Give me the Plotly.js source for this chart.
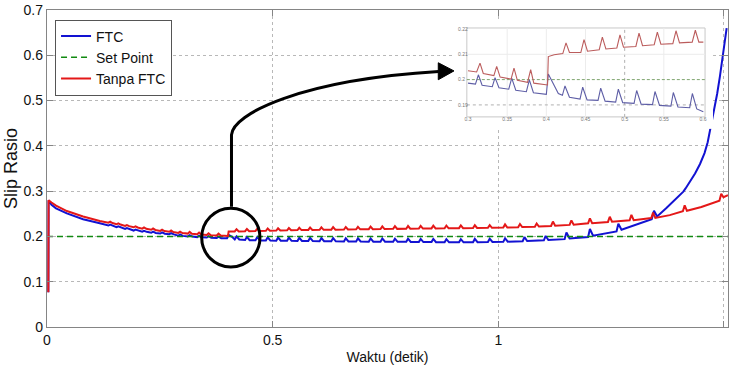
<!DOCTYPE html>
<html><head><meta charset="utf-8">
<script src="https://cdn.plot.ly/plotly-3.0.1.min.js"></script>
<style>html,body{margin:0;padding:0;background:#fff;} #chart{width:731px;height:367px;}</style>
</head><body><div id="chart"></div>
<script>
// ---------- main chart data ----------
const xTicks = [0, 0.5, 1, 1.5];
const xTickText = ['0', '0.5', '1', '1.5'];
const yTicks = [0, 0.1, 0.2, 0.3, 0.4, 0.5, 0.6, 0.7];
const yTickText = ['0', '0.1', '0.2', '0.3', '0.4', '0.5', '0.6', '0.7'];

const setT = [0, 1.509];
const setV = [0.2, 0.2];

const redT = [
0.003, 0.0035, 0.010, 0.020, 0.044, 0.080, 0.117,
0.136, 0.140, 0.145, 0.154, 0.158, 0.163, 0.173, 0.177, 0.182, 0.192, 0.196, 0.201,
0.211, 0.215, 0.220, 0.231, 0.235, 0.240, 0.251, 0.255, 0.260, 0.271, 0.275, 0.280,
0.291, 0.295, 0.300, 0.312, 0.316, 0.321, 0.333, 0.337, 0.342, 0.354, 0.358, 0.363,
0.376, 0.380, 0.385,
0.401, 0.4025,
0.416, 0.420, 0.425, 0.439, 0.443, 0.448, 0.462, 0.466, 0.471, 0.485, 0.489, 0.494,
0.508, 0.512, 0.517, 0.532, 0.536, 0.541, 0.555, 0.559, 0.564, 0.579, 0.583, 0.588,
0.604, 0.608, 0.613, 0.630, 0.634, 0.639, 0.658, 0.662, 0.667, 0.685, 0.689, 0.694,
0.713, 0.717, 0.722, 0.739, 0.743, 0.748, 0.767, 0.771, 0.776, 0.796, 0.800, 0.805,
0.824, 0.828, 0.833, 0.852, 0.856, 0.861, 0.881, 0.885, 0.890, 0.913, 0.917, 0.922,
0.944, 0.948, 0.953, 0.977, 0.981, 0.986, 1.011, 1.015, 1.020, 1.044, 1.048, 1.053,
1.081, 1.085, 1.090, 1.117, 1.121, 1.126, 1.158, 1.162, 1.167, 1.199, 1.203, 1.208,
1.243, 1.247, 1.252, 1.291, 1.295, 1.300, 1.339, 1.343, 1.348,
1.380,
1.409, 1.413, 1.418,
1.450,
1.490, 1.494, 1.499,
1.509];
const redV = [
0.077, 0.280, 0.275, 0.268, 0.256, 0.244, 0.234,
0.2305, 0.2325, 0.2295, 0.2268, 0.2288, 0.2262, 0.2232, 0.2252, 0.2227, 0.2202, 0.2222, 0.2197,
0.2172, 0.2200, 0.2168, 0.2147, 0.2175, 0.2143, 0.2122, 0.2150, 0.2118, 0.2102, 0.2130, 0.2098,
0.2077, 0.2105, 0.2073, 0.2062, 0.2100, 0.2058, 0.2047, 0.2085, 0.2043, 0.2032, 0.2070, 0.2028,
0.2022, 0.2060, 0.2018,
0.2010, 0.2110,
0.2110, 0.2160, 0.2110, 0.2115, 0.2165, 0.2115, 0.2120, 0.2170, 0.2120, 0.2125, 0.2175, 0.2125,
0.2130, 0.2180, 0.2130, 0.2135, 0.2185, 0.2135, 0.2140, 0.2190, 0.2140, 0.2143, 0.2198, 0.2143,
0.2146, 0.2201, 0.2146, 0.2150, 0.2205, 0.2150, 0.2153, 0.2208, 0.2153, 0.2156, 0.2211, 0.2156,
0.2160, 0.2215, 0.2160, 0.2163, 0.2223, 0.2163, 0.2167, 0.2227, 0.2167, 0.2170, 0.2230, 0.2170,
0.2173, 0.2233, 0.2173, 0.2177, 0.2237, 0.2177, 0.2180, 0.2240, 0.2180, 0.2183, 0.2243, 0.2183,
0.2187, 0.2247, 0.2187, 0.2190, 0.2250, 0.2190, 0.2195, 0.2265, 0.2197, 0.2205, 0.2275, 0.2207,
0.2215, 0.2285, 0.2218, 0.2232, 0.2328, 0.2235, 0.2255, 0.2355, 0.2260, 0.2290, 0.2400, 0.2293,
0.2320, 0.2435, 0.2325, 0.2355, 0.2475, 0.2360, 0.2405, 0.2525, 0.2410,
0.2470,
0.2555, 0.2685, 0.2565,
0.2650,
0.2790, 0.2940, 0.2865,
0.2910];

const blueT = [
0.003, 0.0035, 0.010, 0.020, 0.044, 0.080, 0.117,
0.136, 0.140, 0.146, 0.154, 0.158, 0.164, 0.173, 0.177, 0.183, 0.192, 0.196, 0.202,
0.211, 0.215, 0.221, 0.231, 0.235, 0.241, 0.251, 0.255, 0.261, 0.271, 0.275, 0.281,
0.291, 0.295, 0.301, 0.312, 0.316, 0.322, 0.333, 0.337, 0.343, 0.354, 0.358, 0.364,
0.376, 0.380, 0.386,
0.399, 0.4025, 0.410,
0.416, 0.420, 0.426, 0.439, 0.443, 0.449, 0.462, 0.466, 0.472, 0.485, 0.489, 0.495,
0.508, 0.512, 0.518, 0.532, 0.536, 0.542, 0.555, 0.559, 0.565, 0.579, 0.583, 0.589,
0.604, 0.608, 0.614, 0.630, 0.634, 0.640, 0.658, 0.662, 0.668, 0.685, 0.689, 0.695,
0.713, 0.717, 0.723, 0.739, 0.743, 0.749, 0.767, 0.771, 0.777, 0.796, 0.800, 0.806,
0.824, 0.828, 0.834, 0.852, 0.856, 0.862, 0.881, 0.885, 0.891, 0.913, 0.917, 0.923,
0.944, 0.948, 0.954, 0.977, 0.981, 0.987, 1.011, 1.015, 1.021,
1.054, 1.058, 1.064, 1.101, 1.105, 1.111, 1.147, 1.151, 1.158, 1.199, 1.203, 1.210,
1.262, 1.266, 1.273,
1.298,
1.340, 1.345, 1.352,
1.3725, 1.380, 1.390, 1.400, 1.410, 1.415, 1.425, 1.432, 1.436, 1.447, 1.454, 1.457, 1.464, 1.468,
1.471, 1.478, 1.483, 1.485, 1.491, 1.494, 1.497, 1.502, 1.506];
const blueV = [
0.077, 0.280, 0.270, 0.262, 0.251, 0.238, 0.229,
0.2240, 0.2260, 0.2235, 0.2205, 0.2225, 0.2200, 0.2165, 0.2185, 0.2160, 0.2130, 0.2150, 0.2126,
0.2105, 0.2125, 0.2101, 0.2080, 0.2105, 0.2077, 0.2065, 0.2090, 0.2061, 0.2050, 0.2075, 0.2045,
0.2015, 0.2045, 0.2012, 0.2000, 0.2030, 0.1997, 0.1985, 0.2015, 0.1982, 0.1975, 0.2005, 0.1972,
0.1965, 0.1995, 0.1962,
0.1960, 0.2035, 0.1990,
0.1935, 0.2000, 0.1932, 0.1920, 0.1990, 0.1918, 0.1915, 0.1985, 0.1912, 0.1910, 0.1980, 0.1908,
0.1905, 0.1975, 0.1905, 0.1905, 0.1975, 0.1903, 0.1900, 0.1970, 0.1900, 0.1900, 0.1970, 0.1898,
0.1895, 0.1965, 0.1895, 0.1895, 0.1965, 0.1893, 0.1890, 0.1960, 0.1890, 0.1890, 0.1960, 0.1888,
0.1885, 0.1955, 0.1885, 0.1885, 0.1955, 0.1883, 0.1880, 0.1950, 0.1880, 0.1880, 0.1950, 0.1878,
0.1875, 0.1945, 0.1875, 0.1875, 0.1945, 0.1873, 0.1870, 0.1940, 0.1870, 0.1870, 0.1940, 0.1870,
0.1870, 0.1945, 0.1872, 0.1875, 0.1950, 0.1877, 0.1880, 0.1960, 0.1885,
0.1895, 0.1985, 0.1900, 0.1915, 0.2010, 0.1920, 0.1940, 0.2088, 0.1955, 0.1985, 0.2163, 0.2015,
0.2110, 0.2280, 0.2148,
0.2236,
0.2380, 0.2567, 0.2441,
0.2626, 0.2700, 0.2780, 0.2880, 0.2990, 0.3060, 0.3220, 0.3325, 0.3390, 0.3600, 0.3766, 0.3840, 0.4080, 0.4275,
0.4400, 0.4750, 0.5018, 0.5150, 0.5530, 0.5753, 0.5950, 0.6300, 0.6600];

// ---------- inset (zoomed view) data ----------
const insXTicks = [0.3, 0.35, 0.4, 0.45, 0.5, 0.55, 0.6];
const insXTickText = ['0.3', '0.35', '0.4', '0.45', '0.5', '0.55', '0.6'];
const insYTicks = [0.19, 0.2, 0.21, 0.22];
const insYTickText = ['0.19', '0.2', '0.21', '0.22'];
const insGridX = [0.35, 0.4, 0.45, 0.5, 0.55];
const insGridY = [0.19, 0.21];

const insSetT = [0.2985, 0.6026];
const insSetV = [0.2, 0.2];

const insRedT = [0.300, 0.311, 0.3153, 0.3195, 0.333, 0.3366, 0.341, 0.355, 0.3587, 0.363, 0.376, 0.380, 0.384, 0.4015, 0.4025, 0.410,
0.421, 0.4251, 0.4295, 0.444, 0.4481, 0.4525, 0.4675, 0.4715, 0.476, 0.490, 0.494, 0.4985,
0.5143, 0.5183, 0.5228, 0.5377, 0.5417, 0.5462, 0.5615, 0.5655, 0.570, 0.5862, 0.5902, 0.5947,
0.6004];
const insRedV = [0.2035, 0.2030, 0.2065, 0.2024, 0.2016, 0.2052, 0.2010, 0.2002, 0.2045, 0.1997, 0.1989, 0.2039, 0.1986, 0.1979, 0.2091, 0.2098,
0.2103, 0.2145, 0.2107, 0.2107, 0.2158, 0.2112, 0.2118, 0.2168, 0.2121, 0.2125, 0.2177, 0.2128,
0.2131, 0.2184, 0.2134, 0.2138, 0.2188, 0.2140, 0.2142, 0.2193, 0.2145, 0.2148, 0.2195, 0.2148,
0.2148];

const insBlueT = [0.300, 0.3095, 0.3132, 0.318, 0.331, 0.3345, 0.3395, 0.352, 0.3558, 0.361, 0.3745, 0.3783, 0.3835, 0.400, 0.4025, 0.408, 0.4153,
0.4205, 0.4238, 0.4295, 0.443, 0.4464, 0.452, 0.466, 0.4694, 0.475, 0.4885, 0.4919, 0.4975,
0.512, 0.5153, 0.521, 0.5355, 0.5387, 0.5445, 0.559, 0.5621, 0.568, 0.583, 0.5864, 0.592,
0.6004];
const insBlueV = [0.1986, 0.1982, 0.2019, 0.1978, 0.1972, 0.2008, 0.1968, 0.1962, 0.2006, 0.1958, 0.1952, 0.1999, 0.1948, 0.1942, 0.2022, 0.1990, 0.1945,
0.1938, 0.1975, 0.1930, 0.1923, 0.1970, 0.1920, 0.1918, 0.1966, 0.1915, 0.1911, 0.1962, 0.1909,
0.1906, 0.1957, 0.1903, 0.1901, 0.1953, 0.1898, 0.1895, 0.1949, 0.1892, 0.1889, 0.1945, 0.1884,
0.1873];

// ---------- styling ----------
const FONT = '"Liberation Sans", Arial, sans-serif';
const AXC = '#858585';

const traces = [
  {x: blueT, y: blueV, name: 'FTC', mode: 'lines', line: {color: '#1212d2', width: 2}, xaxis: 'x', yaxis: 'y'},
  {x: setT, y: setV, name: 'Set Point', mode: 'lines', line: {color: '#118a11', width: 1.6, dash: '6px,4px'}, xaxis: 'x', yaxis: 'y'},
  {x: redT, y: redV, name: 'Tanpa FTC', mode: 'lines', line: {color: '#e41818', width: 2}, xaxis: 'x', yaxis: 'y'},
  {x: insSetT, y: insSetV, mode: 'lines', showlegend: false, line: {color: '#7fa56f', width: 1, dash: '3px,2px'}, xaxis: 'x2', yaxis: 'y2'},
  {x: insBlueT, y: insBlueV, mode: 'lines', showlegend: false, line: {color: '#5e5ea6', width: 1.1}, xaxis: 'x2', yaxis: 'y2'},
  {x: insRedT, y: insRedV, mode: 'lines', showlegend: false, line: {color: '#bb5c5c', width: 1.1}, xaxis: 'x2', yaxis: 'y2'}
];

const shapes = [];
// inset frame
shapes.push({type: 'rect', xref: 'x2', yref: 'y2', x0: 0.2985, x1: 0.6026, y0: 0.18526, y1: 0.2204,
  line: {color: '#c8c8c8', width: 1}, layer: 'below'});
insGridX.forEach(g => shapes.push({type: 'line', xref: 'x2', yref: 'y2', x0: g, x1: g, y0: 0.18526, y1: 0.2204,
  line: {color: g === 0.5 ? '#b0b0b0' : '#ececec', width: 1, dash: g === 0.5 ? 'dot' : 'solid'}, layer: 'below'}));
insGridY.forEach(g => shapes.push({type: 'line', xref: 'x2', yref: 'y2', x0: 0.2985, x1: 0.6026, y0: g, y1: g,
  line: {color: g === 0.19 ? '#b0b0b0' : '#ececec', width: 1, dash: g === 0.19 ? 'dot' : 'solid'}, layer: 'below'}));
// circle highlighting the zoomed region
shapes.push({type: 'circle', xref: 'x', yref: 'y', x0: 0.3428, x1: 0.4719, y0: 0.1324, y1: 0.2625,
  line: {color: '#000', width: 3}, layer: 'above'});
// curved arrow
shapes.push({type: 'path', xref: 'x', yref: 'y', layer: 'above',
  path: 'M 0.4088,0.2654 L 0.4088,0.4242 C 0.4110,0.4700 0.5606,0.5455 0.8680,0.5640',
  line: {color: '#000', width: 3}});
shapes.push({type: 'path', xref: 'x', yref: 'y', layer: 'above',
  path: 'M 0.8670,0.5835 L 0.9018,0.5655 L 0.8670,0.5460 Z',
  fillcolor: '#000', line: {color: '#000', width: 1}});

const layout = {
  width: 731, height: 367,
  margin: {l: 47, r: 3, t: 10, b: 40, pad: 0},
  paper_bgcolor: '#fff', plot_bgcolor: '#fff',
  font: {family: FONT, size: 14, color: '#111'},
  showlegend: true,
  legend: {x: 0.0118, y: 0.970, xanchor: 'left', yanchor: 'top', bgcolor: '#fff',
    bordercolor: '#555', borderwidth: 1, font: {family: FONT, size: 14, color: '#111'}, tracegroupgap: 0},
  xaxis: {range: [0, 1.509], tickvals: xTicks, ticktext: xTickText, ticks: 'inside', ticklen: 6, tickcolor: AXC,
    showline: true, linecolor: AXC, linewidth: 1.2, mirror: 'allticks', showgrid: true, gridcolor: '#b8b8b8',
    griddash: 'dot', gridwidth: 1, zeroline: false, tickfont: {size: 14},
    title: {text: 'Waktu (detik)', font: {size: 14}, standoff: 5}},
  yaxis: {range: [0, 0.7], tickvals: yTicks, ticktext: yTickText, ticks: 'inside', ticklen: 6, tickcolor: AXC,
    showline: true, linecolor: AXC, linewidth: 1.2, mirror: 'allticks', showgrid: true, gridcolor: '#b8b8b8',
    griddash: 'dot', gridwidth: 1, zeroline: false, tickfont: {size: 14},
    title: {text: 'Slip Rasio', font: {size: 18}, standoff: 1}},
  xaxis2: {domain: [0.5962, 0.9780], anchor: 'y2', range: [0.28085, 0.61277], tickvals: insXTicks, ticktext: insXTickText,
    ticks: '', showline: false, showgrid: false, zeroline: false, ticklabelposition: 'inside', ticklabelstandoff: 4,
    tickfont: {size: 5, color: '#777'}},
  yaxis2: {domain: [0.6250, 0.9716], anchor: 'x2', range: [0.18053, 0.22395], tickvals: insYTicks, ticktext: insYTickText,
    ticks: '', showline: false, showgrid: false, zeroline: false, ticklabelposition: 'inside', ticklabelstandoff: 2,
    tickfont: {size: 5, color: '#777'}},
  shapes: shapes
};

Plotly.newPlot('chart', traces, layout, {staticPlot: true, displayModeBar: false});
</script></body></html>
